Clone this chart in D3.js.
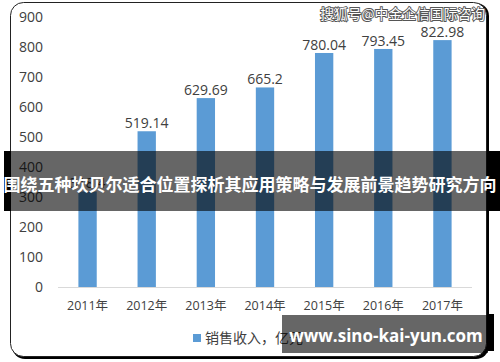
<!DOCTYPE html>
<html>
<head>
<meta charset="utf-8">
<script src="https://cdn.jsdelivr.net/npm/d3@7"></script>
<style>
  body { margin: 0; background: #fff; }
  svg { display: block; }
</style>
</head>
<body>
<div id="chart"></div>
<script>
// Sales revenue bar chart (2011-2017)
var years = ["2011年", "2012年", "2013年", "2014年", "2015年", "2016年", "2017年"];
var sales = [318.4, 519.14, 629.69, 665.2, 780.04, 793.45, 822.98];
var salesLabels = ["318.4", "519.14", "629.69", "665.2", "780.04", "793.45", "822.98"];
var yTicks = [0, 100, 200, 300, 400, 500, 600, 700, 800, 900];
var seriesName = "销售收入，亿元";
var watermark = "搜狐号@中金企信国际咨询";
var bannerText = "围绕五种坎贝尔适合位置探析其应用策略与发展前景趋势研究方向";
var siteText = "www.sino-kai-yun.com";

var width = 500,
    height = 362,
    margin = { left: 58, right: 28, top: 17, bottom: 75 },
    barColor = "#5b9bd5",
    textColor = "#404040",
    font = "'Open Sans', 'Noto Sans CJK SC', sans-serif";

var svg = d3.select("#chart").append("svg")
  .attr("width", width)
  .attr("height", height);

// frame with a dark shadow on the right/bottom
svg.append("rect")
  .attr("x", 12).attr("y", 3)
  .attr("width", 477).attr("height", 356)
  .attr("rx", 13)
  .attr("fill", "#000");
svg.append("rect")
  .attr("x", 10.5).attr("y", 2.5)
  .attr("width", 476).attr("height", 354)
  .attr("rx", 13)
  .attr("fill", "#fff")
  .attr("stroke", "#222")
  .attr("stroke-width", 1);

var x = d3.scaleBand()
  .domain(years)
  .range([margin.left, width - margin.right])
  .paddingInner(0.69)
  .paddingOuter(0.345);

var y = d3.scaleLinear()
  .domain([0, 900])
  .range([height - margin.bottom, margin.top]);

// y axis: labels only
var yAxis = svg.append("g")
  .attr("transform", "translate(" + 43 + ",0)")
  .call(d3.axisLeft(y).tickValues(yTicks).tickSize(0).tickPadding(0));
yAxis.select(".domain").remove();
yAxis.selectAll("text")
  .attr("fill", textColor)
  .style("font-family", font)
  .style("font-size", "14px");

// x axis
var xAxis = svg.append("g")
  .attr("transform", "translate(0," + y(0) + ")")
  .call(d3.axisBottom(x).tickSize(0).tickPadding(14));
xAxis.select(".domain")
  .attr("stroke", "#d9d9d9")
  .attr("d", "M" + margin.left + ",0.5H" + (width - margin.right));
xAxis.selectAll("text")
  .attr("fill", textColor)
  .style("font-family", font)
  .style("font-size", "12.5px");

// bars
svg.selectAll(".bar")
  .data(sales)
  .enter().append("rect")
  .attr("class", "bar")
  .attr("x", function(d, i) { return x(years[i]); })
  .attr("y", function(d) { return y(d); })
  .attr("width", x.bandwidth())
  .attr("height", function(d) { return y(0) - y(d); })
  .attr("fill", barColor);

// value labels
svg.selectAll(".val")
  .data(sales)
  .enter().append("text")
  .attr("class", "val")
  .attr("x", function(d, i) { return x(years[i]) + x.bandwidth() / 2; })
  .attr("y", function(d) { return y(d) - 3; })
  .attr("text-anchor", "middle")
  .attr("fill", textColor)
  .style("font-family", font)
  .style("font-size", "14px")
  .text(function(d, i) { return salesLabels[i]; });

// legend
var legend = svg.append("g").attr("transform", "translate(193,334)");
legend.append("rect")
  .attr("width", 8).attr("height", 8)
  .attr("fill", barColor);
legend.append("text")
  .attr("x", 12).attr("y", 4)
  .attr("dy", "0.35em")
  .attr("fill", textColor)
  .style("font-family", font)
  .style("font-size", "14px")
  .text(seriesName);

// watermark top right
svg.append("text")
  .attr("x", 485).attr("y", 14)
  .attr("dy", "0.35em")
  .attr("text-anchor", "end")
  .attr("fill", "#fff")
  .attr("stroke", "#555")
  .attr("stroke-width", 1.8)
  .attr("paint-order", "stroke")
  .style("font-family", "'Noto Sans CJK SC', sans-serif")
  .style("font-size", "13.8px")
  .text(watermark);

// banner across the middle
svg.append("rect")
  .attr("x", 4).attr("y", 151)
  .attr("width", 7).attr("height", 60)
  .attr("fill", "#000");
svg.append("rect")
  .attr("x", 487).attr("y", 151)
  .attr("width", 13).attr("height", 60)
  .attr("fill", "#000");
svg.append("rect")
  .attr("x", 4).attr("y", 151)
  .attr("width", 496).attr("height", 60)
  .attr("fill", "#000")
  .attr("fill-opacity", 0.6);
svg.append("text")
  .attr("x", 250).attr("y", 185)
  .attr("dy", "0.35em")
  .attr("text-anchor", "middle")
  .attr("fill", "#fff")
  .style("font-family", "'Noto Sans CJK SC', sans-serif")
  .style("font-weight", "bold")
  .style("font-size", "17px")
  .text(bannerText);

// site box bottom right
svg.append("rect")
  .attr("x", 488).attr("y", 314)
  .attr("width", 6).attr("height", 37)
  .attr("fill", "#000");
svg.append("rect")
  .attr("x", 282).attr("y", 315)
  .attr("width", 206).attr("height", 38)
  .attr("fill", "#000")
  .attr("fill-opacity", 0.6);
svg.append("text")
  .attr("x", 386).attr("y", 336)
  .attr("dy", "0.35em")
  .attr("text-anchor", "middle")
  .attr("fill", "#fff")
  .style("font-family", font)
  .style("font-weight", "bold")
  .style("font-size", "17px")
  .text(siteText);
</script>
</body>
</html>
